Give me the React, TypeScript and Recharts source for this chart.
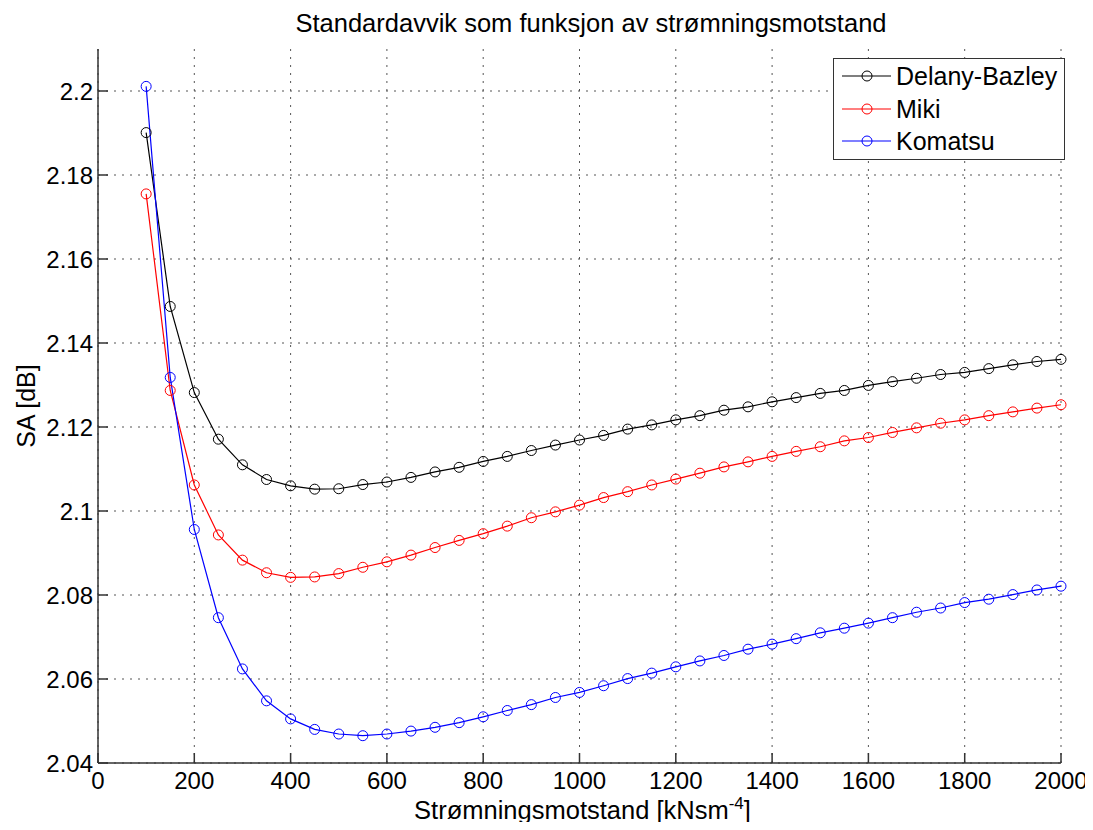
import { LineChart, Line, XAxis, YAxis, Legend, ReferenceLine } from 'recharts'

// flow resistance [kNsm^-4]
const flowResistance = [
  100, 150, 200, 250, 300, 350, 400, 450, 500, 550, 600, 650, 700, 750, 800, 850, 900, 950,
  1000, 1050, 1100, 1150, 1200, 1250, 1300, 1350, 1400, 1450, 1500, 1550, 1600, 1650, 1700,
  1750, 1800, 1850, 1900, 1950, 2000,
]

// standard deviation SA [dB]
const delanyBazley = [
  2.1901, 2.1487, 2.1282, 2.1171, 2.111, 2.1075, 2.106, 2.1052, 2.1053, 2.1063, 2.1069, 2.108,
  2.1093, 2.1104, 2.1118, 2.113, 2.1144, 2.1157, 2.1169, 2.118, 2.1195, 2.1205, 2.1217, 2.1227,
  2.124, 2.1248, 2.126, 2.127, 2.128, 2.1287, 2.1299, 2.1308, 2.1316, 2.1325, 2.133, 2.1339,
  2.1348, 2.1356, 2.1361,
]
const miki = [
  2.1755, 2.1287, 2.1062, 2.0943, 2.0883, 2.0853, 2.0842, 2.0843, 2.0851, 2.0866, 2.0879, 2.0895,
  2.0913, 2.093, 2.0946, 2.0964, 2.0984, 2.0998, 2.1014, 2.1032, 2.1046, 2.1062, 2.1076, 2.109,
  2.1105, 2.1117, 2.113, 2.1142, 2.1153, 2.1167, 2.1175, 2.1187, 2.1198, 2.1209, 2.1217, 2.1227,
  2.1236, 2.1245, 2.1253,
]
const komatsu = [
  2.2011, 2.1318, 2.0956, 2.0746, 2.0624, 2.0548, 2.0505, 2.048, 2.0469, 2.0465, 2.0469, 2.0476,
  2.0485, 2.0496, 2.051, 2.0525, 2.0539, 2.0556, 2.0568, 2.0584, 2.0601, 2.0614, 2.0629, 2.0643,
  2.0656, 2.0671, 2.0683, 2.0696, 2.071, 2.0721, 2.0733, 2.0746, 2.0759, 2.0769, 2.0782, 2.079,
  2.0801, 2.0812, 2.0821,
]

const xTicks = [0, 200, 400, 600, 800, 1000, 1200, 1400, 1600, 1800, 2000]
const yTicks = [2.04, 2.06, 2.08, 2.1, 2.12, 2.14, 2.16, 2.18, 2.2]

const data = flowResistance.map((x, i) => ({
  x,
  db: delanyBazley[i],
  miki: miki[i],
  komatsu: komatsu[i],
}))

const series = [
  { key: 'db', name: 'Delany-Bazley', color: '#000000' },
  { key: 'miki', name: 'Miki', color: '#ff0000' },
  { key: 'komatsu', name: 'Komatsu', color: '#0000ff' },
]

const FONT = '"Liberation Sans", Arial, Helvetica, sans-serif'
const AXIS = '#333'
const GRID = '#555'

function XTick({ x, y, payload }: any) {
  return (
    <g>
      <line x1={x} y1={y} x2={x} y2={y - 10} stroke={AXIS} strokeWidth={1.5} />
      <text x={x} y={y + 26} textAnchor="middle" fontSize={24} fontFamily={FONT} fill="#000">
        {payload.value}
      </text>
    </g>
  )
}

function YTick({ x, y, payload }: any) {
  return (
    <g>
      <line x1={x} y1={y} x2={x + 10} y2={y} stroke={AXIS} strokeWidth={1.5} />
      <text x={x - 5} y={y} dy="0.36em" textAnchor="end" fontSize={24} fontFamily={FONT} fill="#000">
        {String(Number(payload.value.toFixed(2)))}
      </text>
    </g>
  )
}

function XLabel({ viewBox }: any) {
  const cx = viewBox.x + viewBox.width / 2 + 3
  return (
    <text x={cx} y={viewBox.y + 56} textAnchor="middle" fontSize={25.5} fontFamily={FONT} fill="#000">
      <tspan>Strømningsmotstand [kNsm</tspan>
      <tspan dy={-10} fontSize={17}>-4</tspan>
      <tspan dy={10}>]</tspan>
    </text>
  )
}

function YLabel({ viewBox }: any) {
  const cy = viewBox.y + viewBox.height / 2
  return (
    <text
      x={27}
      y={cy}
      transform={`rotate(-90, 27, ${cy})`}
      textAnchor="middle"
      fontSize={25}
      fontFamily={FONT}
      fill="#000"
    >
      SA [dB]
    </text>
  )
}

function LegendBox({ payload }: any) {
  const order = series.map((s) => s.name)
  const items = [...(payload || [])].sort((a: any, b: any) => order.indexOf(a.value) - order.indexOf(b.value))
  return (
    <div
      style={{
        width: 232,
        height: 102,
        boxSizing: 'border-box',
        border: '1px solid #333',
        background: '#fff',
        paddingTop: 1,
        paddingLeft: 8,
        fontFamily: FONT,
        fontSize: 25,
        color: '#000',
      }}
    >
      {items.map((p: any) => (
        <div key={p.value} style={{ display: 'flex', alignItems: 'center', height: 32.5 }}>
          <svg width={54} height={14} style={{ display: 'block' }}>
            <line x1={0} y1={7} x2={49} y2={7} stroke={p.color} strokeWidth={1.2} />
            <circle cx={25} cy={7} r={5} fill="none" stroke={p.color} strokeWidth={1} />
          </svg>
          <span style={{ lineHeight: '28px' }}>{p.value}</span>
        </div>
      ))}
    </div>
  )
}

export default function App() {
  return (
    <div style={{ position: 'relative', width: 1085, height: 822, marginBottom: -8, background: '#fff' }}>
      <div
        style={{
          position: 'absolute',
          left: 583 - 400,
          width: 800,
          top: 3,
          textAlign: 'center',
          fontFamily: FONT,
          fontSize: 25.5,
          lineHeight: '25px',
          whiteSpace: 'nowrap',
          color: '#000',
          zIndex: 1,
        }}
      >
        Standardavvik som funksjon av strømningsmotstand
      </div>
      <LineChart width={1085} height={822} data={data} margin={{ top: 41, right: 32, bottom: 0, left: 0 }}>
        {xTicks.map((t) => (
          <ReferenceLine key={`gx${t}`} x={t} stroke={GRID} strokeDasharray="2 6" strokeWidth={1} />
        ))}
        {yTicks.map((t) => (
          <ReferenceLine key={`gy${t}`} y={t} stroke={GRID} strokeDasharray="2 6" strokeWidth={1} />
        ))}
        <XAxis
          dataKey="x"
          type="number"
          domain={[0, 2000]}
          ticks={xTicks}
          height={67}
          tickSize={0}
          tickMargin={0}
          tick={<XTick />}
          stroke={AXIS}
          strokeWidth={1.5}
          label={<XLabel />}
        />
        <YAxis
          type="number"
          domain={[2.04, 2.21]}
          ticks={yTicks}
          width={90}
          tickSize={0}
          tickMargin={0}
          tick={<YTick />}
          stroke={AXIS}
          strokeWidth={1.5}
          allowDataOverflow
          label={<YLabel />}
        />
        <Legend
          layout="vertical"
          align="center"
          verticalAlign="middle"
          content={<LegendBox />}
          wrapperStyle={{ left: 825, top: 50, width: 232, height: 102 }}
        />
        {series.map((s) => (
          <Line
            key={s.key}
            dataKey={s.key}
            name={s.name}
            type="linear"
            stroke={s.color}
            strokeWidth={1.2}
            dot={{ r: 5, fill: 'none', stroke: s.color, strokeWidth: 1 }}
            activeDot={false}
            isAnimationActive={false}
          />
        ))}
      </LineChart>
    </div>
  )
}
